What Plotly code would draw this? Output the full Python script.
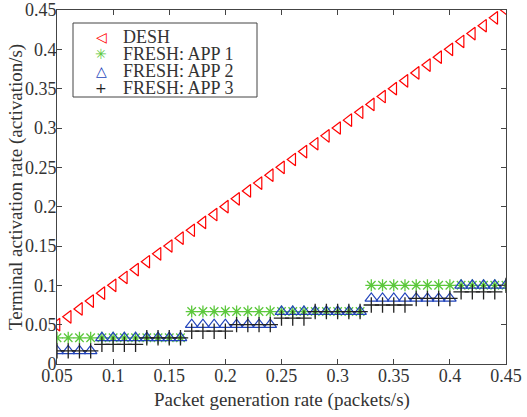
import plotly.graph_objects as go

rate = [round(0.05 + 0.01 * i, 2) for i in range(41)]

desh = list(rate)

app1 = [0.0333] * 12 + [0.0667] * 16 + [0.1] * 13

app2 = ([0.0167] * 4 + [0.0333] * 8 + [0.05] * 8 + [0.0667] * 8 +
        [0.0833] * 8 + [0.1] * 5)

app3 = ([0.0167] * 4 + [0.025] * 4 + [0.0333] * 4 + [0.0417] * 4 + [0.05] * 4 +
        [0.0583] * 3 + [0.0667] * 5 + [0.075] * 4 + [0.0833] * 4 + [0.0917] * 4 + [0.1] * 1)

xticks = [0.05, 0.1, 0.15, 0.2, 0.25, 0.3, 0.35, 0.4, 0.45]
xticklabels = ["0.05", "0.1", "0.15", "0.2", "0.25", "0.3", "0.35", "0.4", "0.45"]
yticks = [0, 0.05, 0.1, 0.15, 0.2, 0.25, 0.3, 0.35, 0.4, 0.45]
yticklabels = ["0", "0.05", "0.1", "0.15", "0.2", "0.25", "0.3", "0.35", "0.4", "0.45"]

series_names = ["DESH", "FRESH: APP 1", "FRESH: APP 2", "FRESH: APP 3"]
legend_glyphs = ["◁", "✳", "△", "+"]

FONT = "Liberation Serif"
TXT = "#333333"
RED, GREEN, BLUE, BLACK = "#ff0000", "#5cc83c", "#2244bb", "#222222"
colors = [RED, GREEN, BLUE, BLACK]

fig = go.Figure()
fig.add_trace(go.Scatter(x=rate, y=desh, mode="markers", name=series_names[0],
                         marker=dict(symbol="triangle-left-open", size=11, color=RED,
                                     line=dict(width=1.2))))
fig.add_trace(go.Scatter(x=rate, y=app1, mode="markers", name=series_names[1],
                         marker=dict(symbol="asterisk-open", size=10, color=GREEN,
                                     line=dict(width=1.3, color=GREEN))))
fig.add_trace(go.Scatter(x=rate, y=app2, mode="markers", name=series_names[2],
                         marker=dict(symbol="triangle-up-open", size=11, color=BLUE,
                                     line=dict(width=1.2))))
fig.add_trace(go.Scatter(x=rate, y=app3, mode="markers", name=series_names[3],
                         marker=dict(symbol="cross-thin-open", size=11, color=BLACK,
                                     line=dict(width=1.3, color=BLACK))))

axis_common = dict(showgrid=False, zeroline=False, showline=True, linecolor="#444444",
                   linewidth=1, mirror="ticks", ticks="inside", ticklen=5,
                   tickcolor="#444444", automargin=False,
                   tickfont=dict(family=FONT, size=18, color=TXT))

fig.update_xaxes(range=[0.05, 0.45], tickvals=xticks, ticktext=xticklabels,
                 ticklabelstandoff=-5, **axis_common)
fig.update_yaxes(range=[0, 0.45], tickvals=yticks, ticktext=yticklabels,
                 ticklabelstandoff=-4, **axis_common)

W, H = 527, 417
L, R, T, B = 57, 21, 10, 53
pw, ph = W - L - R, H - T - B


def px(xp):
    return (xp - L) / pw


def py(yp):
    return (H - B - yp) / ph


annotations = [
    dict(text="Packet generation rate (packets/s)", x=0.5, y=py(400), xref="paper", yref="paper",
         showarrow=False, xanchor="center", yanchor="middle",
         font=dict(family=FONT, size=19, color=TXT)),
    dict(text="Terminal activation rate (activation/s)", x=px(16), y=py(187), xref="paper",
         yref="paper", showarrow=False, xanchor="center", yanchor="middle", textangle=-90,
         font=dict(family=FONT, size=19, color=TXT)),
]

row_y = [37, 54, 71, 88]
for name, glyph, col, yy in zip(series_names, legend_glyphs, colors, row_y):
    annotations.append(dict(text=name, x=px(121), y=py(yy), xref="paper", yref="paper",
                            showarrow=False, xanchor="left", yanchor="middle",
                            font=dict(family=FONT, size=18, color=TXT)))
    annotations.append(dict(text=glyph, x=px(101), y=py(yy), xref="paper", yref="paper",
                            showarrow=False, xanchor="center", yanchor="middle",
                            font=dict(family="DejaVu Sans", size=14, color=col)))

shapes = [dict(type="rect", xref="paper", yref="paper", x0=px(73), x1=px(257),
               y0=py(97), y1=py(23), line=dict(color="#444444", width=1), fillcolor="white",
               layer="above")]

fig.update_layout(
    width=W, height=H,
    margin=dict(l=L, r=R, t=T, b=B),
    paper_bgcolor="white", plot_bgcolor="white",
    font=dict(family=FONT, size=18, color=TXT),
    showlegend=False,
    annotations=annotations,
    shapes=shapes,
)

fig.write_html("out.html", config={"displayModeBar": False},
               post_script="document.body.style.margin='0';document.body.style.padding='0';")
